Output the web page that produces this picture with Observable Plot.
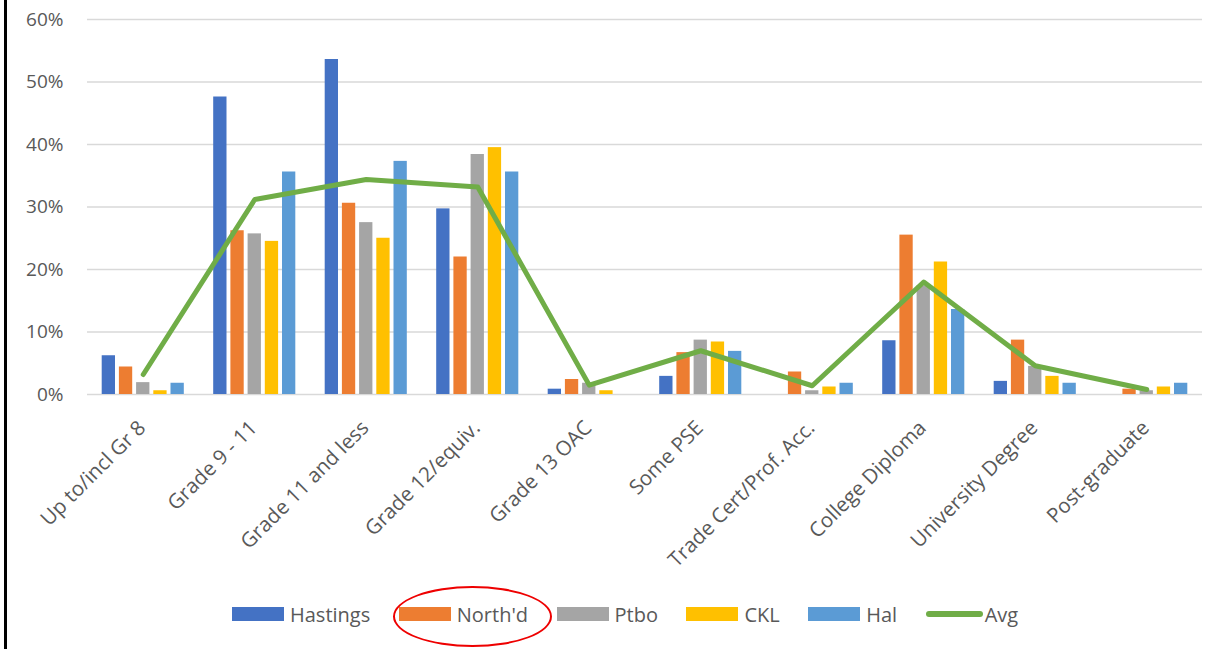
<!DOCTYPE html>
<html>
<head>
<meta charset="utf-8">
<script src="https://cdn.jsdelivr.net/npm/d3@7"></script>
<script src="https://cdn.jsdelivr.net/npm/@observablehq/plot@0.6"></script>
<style>
  body { margin: 0; background: #fff; font-family: "Open Sans", sans-serif; }
  #wrap { position: relative; width: 1206px; height: 649px; overflow: hidden; background: #fff; }
  #border { position: absolute; left: 4px; top: 0; width: 2.5px; height: 649px; background: #000; }
  #chart { position: absolute; left: 0; top: 0; }
  #legend { position: absolute; left: 232px; top: 600px; height: 28px; display: flex; align-items: center; font-size: 20px; color: #595959; white-space: nowrap; }
  .item { display: flex; align-items: center; margin-right: 28.5px; }
  .sw { width: 52px; height: 14px; margin-right: 6px; }
  .ln { width: 57px; height: 5.5px; border-radius: 3px; margin-right: 2px; }
  #ellipse { position: absolute; left: 393px; top: 586px; width: 159px; height: 61px; border: 2px solid #ee0000; border-radius: 50%; box-sizing: border-box; }
</style>
</head>
<body>
<div id="wrap">
  <div id="chart"></div>
  <div id="border"></div>
  <div id="legend"></div>
  <div id="ellipse"></div>
</div>
<script>
const categories = ["Up to/incl Gr 8","Grade 9 - 11","Grade 11 and less","Grade 12/equiv.","Grade 13 OAC","Some PSE","Trade Cert/Prof. Acc.","College Diploma","University Degree","Post-graduate"];
const seriesNames = ["Hastings","North'd","Ptbo","CKL","Hal"];
const hastings = [6.2, 47.6, 53.6, 29.7, 0.85, 2.9, 0, 8.6, 2.1, 0];
const northd   = [4.4, 26.2, 30.6, 22.0, 2.4, 6.7, 3.6, 25.5, 8.7, 0.85];
const ptbo     = [1.9, 25.7, 27.5, 38.4, 1.8, 8.7, 0.6, 17.4, 4.5, 0.6];
const ckl      = [0.6, 24.5, 25.0, 39.5, 0.6, 8.4, 1.2, 21.2, 2.9, 1.2];
const hal      = [1.8, 35.6, 37.3, 35.6, 0, 6.9, 1.8, 13.6, 1.8, 1.8];
const avg      = [3.2, 31.2, 34.4, 33.2, 1.5, 7.0, 1.4, 18.0, 4.6, 0.8];
const yTicks = [0, 10, 20, 30, 40, 50, 60];
const colors = ["#4472C4", "#ED7D31", "#A5A5A5", "#FFC000", "#5B9BD5"];
const avgName = "Avg";
const avgColor = "#70AD47";

const seriesValues = [hastings, northd, ptbo, ckl, hal];
const bandW = 111.5, barW = 13.3, barStep = 17.2;
const inset = (bandW - barW) / 2;

const barMarks = seriesValues.map((vals, k) =>
  Plot.barY(categories.map((c, i) => ({cat: c, v: vals[i]})), {
    x: "cat", y: "v", fill: colors[k],
    insetLeft: inset, insetRight: inset,
    dx: (k - 2) * barStep
  })
);

const avgData = categories.map((c, i) => ({cat: c, v: avg[i]}));

const chart = Plot.plot({
  width: 1206,
  height: 590,
  marginLeft: 87,
  marginRight: 4,
  marginTop: 19,
  marginBottom: 196,
  style: { fontFamily: "'Open Sans', sans-serif", fontSize: "19px", color: "#595959", background: "transparent" },
  x: { domain: categories, padding: 0, round: false, label: null },
  y: { domain: [0, 60], label: null },
  marks: [
    Plot.ruleY(yTicks, { stroke: "#d9d9d9", strokeWidth: 1.5 }),
    ...barMarks,
    Plot.line(avgData, { x: "cat", y: "v", stroke: avgColor, strokeWidth: 5, strokeLinejoin: "round", strokeLinecap: "round" }),
    Plot.axisY({ ticks: yTicks, tickSize: 0, tickPadding: 24, tickFormat: d => d + "%", fill: "#595959", fontSize: 19 }),
    Plot.axisX({ tickSize: 0, tickPadding: 30, tickRotate: -45, fill: "#595959", fontSize: 20.5, dx: -1 })
  ]
});
document.getElementById("chart").appendChild(chart);

const legend = document.getElementById("legend");
seriesNames.forEach((n, k) => {
  const it = document.createElement("div"); it.className = "item";
  it.innerHTML = `<div class="sw" style="background:${colors[k]}"></div><span>${n}</span>`;
  legend.appendChild(it);
});
const it = document.createElement("div"); it.className = "item";
it.innerHTML = `<div class="ln" style="background:${avgColor}"></div><span>${avgName}</span>`;
legend.appendChild(it);
</script>
</body>
</html>
